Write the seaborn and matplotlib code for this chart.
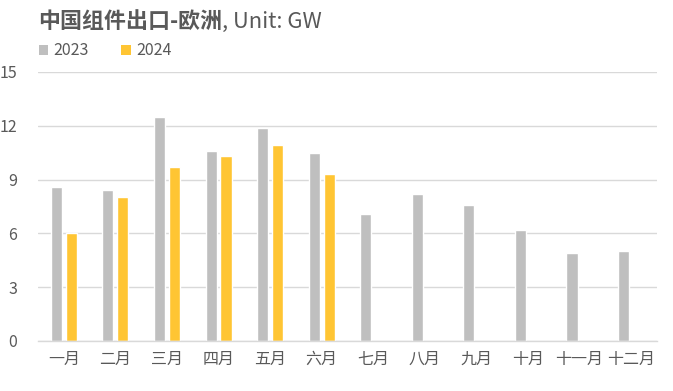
import pandas as pd
import numpy as np
import matplotlib
matplotlib.use("Agg")
import matplotlib.pyplot as plt
import seaborn as sns
from matplotlib.patches import Patch

# Data (GW)
months = ["一月", "二月", "三月", "四月", "五月", "六月",
          "七月", "八月", "九月", "十月", "十一月", "十二月"]
exports_2023 = [8.6, 8.4, 12.5, 10.6, 11.9, 10.5, 7.1, 8.2, 7.6, 6.2, 4.9, 5.0]
exports_2024 = [6.0, 8.0, 9.7, 10.3, 10.9, 9.3, np.nan, np.nan, np.nan, np.nan, np.nan, np.nan]
years = ["2023", "2024"]
colors = {"2023": "#BFBFBF", "2024": "#FFC533"}

df = pd.DataFrame({
    "month": months * 2,
    "year": ["2023"] * 12 + ["2024"] * 12,
    "value": exports_2023 + exports_2024,
})

sns.set_theme(style="white")
plt.rcParams["font.family"] = ["Noto Sans CJK SC", "DejaVu Sans"]

fig = plt.figure(figsize=(6.73, 3.91), dpi=100)
ax = fig.add_axes([0.0565, 0.128, 0.9195, 0.688])

sns.barplot(data=df, x="month", y="value", hue="year", order=months,
            hue_order=years, palette=colors, width=0.58, gap=0.26,
            saturation=1, legend=False, ax=ax)

ax.set_ylim(0, 15)
ax.set_xlim(-0.5, 11.5)
ax.set_yticks([0, 3, 6, 9, 12, 15])
ax.yaxis.grid(True, color="#D9D9D9", linewidth=1)
ax.set_axisbelow(True)
for side in ["left", "right", "top"]:
    ax.spines[side].set_visible(False)
ax.spines["bottom"].set_color("#D9D9D9")
ax.spines["bottom"].set_linewidth(1)
ax.set_xlabel("")
ax.set_ylabel("")
ax.tick_params(axis="y", length=0, pad=15, labelsize=11.5, labelcolor="#595959")
ax.tick_params(axis="x", length=0, pad=7, labelsize=11.5, labelcolor="#595959")

# Title: bold Chinese part followed by regular unit text
t1 = fig.text(0.056, 0.945, "中国组件出口-欧洲", fontsize=15.8, fontweight="bold",
              color="#595959", va="center", ha="left")
fig.canvas.draw()
bb = t1.get_window_extent(renderer=fig.canvas.get_renderer())
x_end = bb.x1 / fig.bbox.width
fig.text(x_end, 0.945, ", Unit: GW", fontsize=15.8, color="#595959",
         va="center", ha="left")

handles = [Patch(facecolor=colors[y], edgecolor="none", label=y) for y in years]
fig.legend(handles=handles, loc="center left", bbox_to_anchor=(0.036, 0.87),
           ncol=2, frameon=False, fontsize=11.5, handlelength=0.6,
           handleheight=0.6, handletextpad=0.35, columnspacing=2.0,
           labelcolor="#595959")

fig.savefig("out.png", dpi=100)
